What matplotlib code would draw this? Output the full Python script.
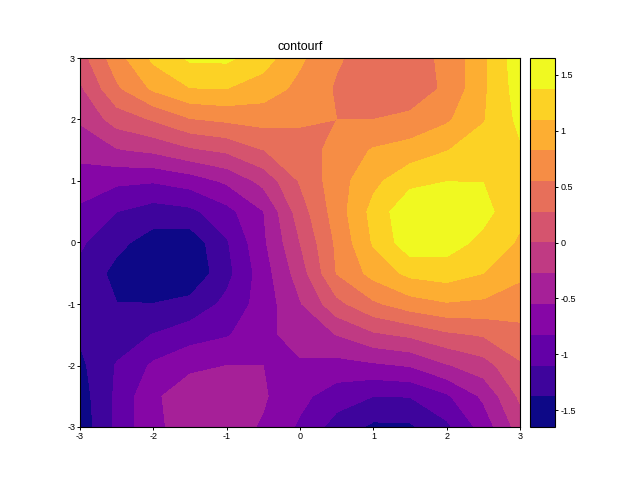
import matplotlib
matplotlib.use('Agg')
import matplotlib.pyplot as plt
import numpy as np

plt.rcParams['font.family'] = ['Liberation Sans', 'DejaVu Sans']

xs = [-3, -2.5, -2, -1.5, -1, -0.5, 0, 0.5, 1, 1.5, 2, 2.5, 3]
ys = [-3, -2.5, -2, -1.5, -1, -0.5, 0, 0.5, 1, 1.5, 2, 2.5, 3]

# values, one list per x, going up in y
col_m30 = [-1.55, -1.51, -1.44, -1.34, -1.25, -1.17, -1.06, -0.88, -0.68, -0.46, -0.24, -0.05, 0.15]
col_m25 = [-1.05, -1.05, -1.08, -1.24, -1.37, -1.46, -1.30, -1.10, -0.77, -0.30, 0.12, 0.50, 0.71]
col_m20 = [-0.60, -0.59, -0.78, -1.09, -1.37, -1.60, -1.50, -1.23, -0.80, -0.22, 0.30, 0.87, 1.16]
col_m15 = [-0.45, -0.42, -0.60, -0.95, -1.29, -1.60, -1.55, -1.17, -0.70, -0.05, 0.53, 1.09, 1.42]
col_m10 = [-0.43, -0.38, -0.55, -0.85, -1.03, -1.19, -1.13, -0.92, -0.50, 0.05, 0.60, 1.10, 1.43]
col_m05 = [-0.58, -0.52, -0.55, -0.65, -0.70, -0.68, -0.60, -0.56, -0.19, 0.27, 0.65, 0.97, 1.22]
col_00 = [-0.87, -0.75, -0.60, -0.40, -0.30, -0.14, 0.00, 0.14, 0.30, 0.40, 0.60, 0.75, 0.87]
col_05 = [-1.22, -0.97, -0.65, -0.27, 0.19, 0.56, 0.60, 0.68, 0.70, 0.65, 0.55, 0.52, 0.58]
col_10 = [-1.43, -1.10, -0.60, -0.05, 0.50, 0.92, 1.13, 1.19, 1.03, 0.85, 0.55, 0.38, 0.43]
col_15 = [-1.42, -1.09, -0.53, 0.05, 0.70, 1.17, 1.55, 1.60, 1.29, 0.95, 0.60, 0.42, 0.45]
col_20 = [-1.16, -0.87, -0.30, 0.22, 0.80, 1.23, 1.50, 1.60, 1.37, 1.09, 0.78, 0.59, 0.60]
col_25 = [-0.71, -0.50, -0.12, 0.30, 0.77, 1.10, 1.30, 1.46, 1.37, 1.24, 1.08, 1.05, 1.05]
col_30 = [-0.15, 0.05, 0.24, 0.46, 0.68, 0.88, 1.06, 1.17, 1.25, 1.34, 1.44, 1.51, 1.55]

levels = [-1.65, -1.375, -1.1, -0.825, -0.55, -0.275, 0, 0.275, 0.55, 0.825, 1.1, 1.375, 1.65]
axis_ticks = [-3, -2, -1, 0, 1, 2, 3]
cbar_ticks = [-1.5, -1, -0.5, 0, 0.5, 1, 1.5]
cbar_labels = ['-1.5', '-1', '-0.5', '0', '0.5', '1', '1.5']

z = np.array([col_m30, col_m25, col_m20, col_m15, col_m10, col_m05, col_00,
              col_05, col_10, col_15, col_20, col_25, col_30]).T

# one plasma colour per band, from the very dark blue to the full yellow
band_colors = plt.get_cmap('plasma')(np.linspace(0, 1, len(levels) - 1))

fig = plt.figure(figsize=(6.4, 4.8), dpi=100)
ax = fig.add_axes([80 / 640, 1 - 427 / 480, 440 / 640, 369 / 480])
cax = fig.add_axes([530 / 640, 1 - 427 / 480, 25 / 640, 369 / 480])

cs = ax.contourf(xs, ys, z, levels=levels, colors=band_colors)
ax.set_xlim(-3, 3)
ax.set_ylim(-3, 3)
ax.set_xticks(axis_ticks)
ax.set_yticks(axis_ticks)
ax.set_xticklabels([str(t) for t in axis_ticks])
ax.set_yticklabels([str(t) for t in axis_ticks])
ax.tick_params(labelsize=6.5, length=2.5, width=0.7, pad=1)
ax.set_title('contourf', fontsize=9, pad=5.5)

cb = fig.colorbar(cs, cax=cax)
cb.set_ticks(cbar_ticks)
cb.set_ticklabels(cbar_labels)
cb.ax.minorticks_off()
cb.ax.tick_params(labelsize=6.5, length=2.5, width=0.7, pad=1.5)

fig.savefig('out.png', dpi=100)
